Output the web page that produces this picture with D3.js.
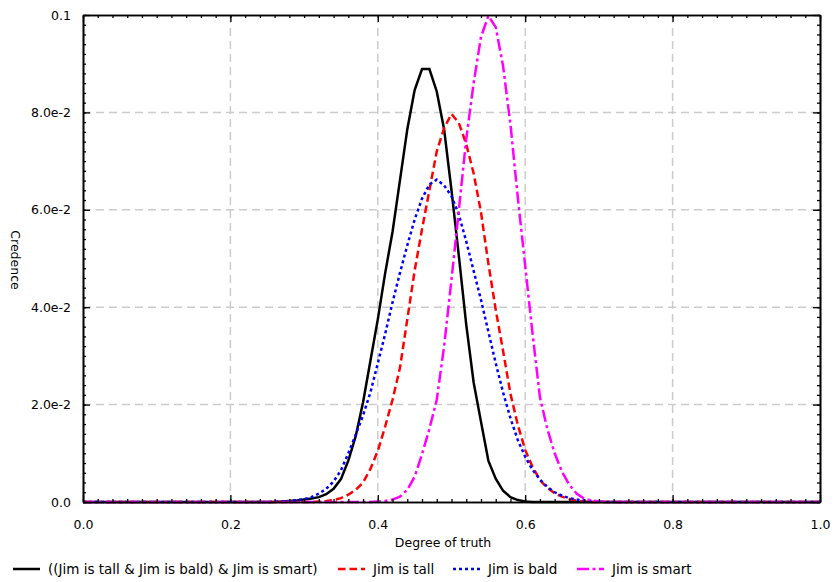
<!DOCTYPE html>
<html>
<head>
<meta charset="utf-8">
<script src="https://cdn.jsdelivr.net/npm/d3@7"></script>
<style>
body { margin: 0; background: #fff; }
text { font-family: "DejaVu Sans", sans-serif; font-size: 12.5px; fill: #000; }
</style>
</head>
<body>
<svg id="chart" width="837" height="582"></svg>
<script>
// Credence over degree of truth, sampled every 0.01
var degrees = [
    0.00, 0.01, 0.02, 0.03, 0.04, 0.05, 0.06, 0.07, 0.08, 0.09,
    0.10, 0.11, 0.12, 0.13, 0.14, 0.15, 0.16, 0.17, 0.18, 0.19,
    0.20, 0.21, 0.22, 0.23, 0.24, 0.25, 0.26, 0.27, 0.28, 0.29,
    0.30, 0.31, 0.32, 0.33, 0.34, 0.35, 0.36, 0.37, 0.38, 0.39,
    0.40, 0.41, 0.42, 0.43, 0.44, 0.45, 0.46, 0.47, 0.48, 0.49,
    0.50, 0.51, 0.52, 0.53, 0.54, 0.55, 0.56, 0.57, 0.58, 0.59,
    0.60, 0.61, 0.62, 0.63, 0.64, 0.65, 0.66, 0.67, 0.68, 0.69,
    0.70, 0.71, 0.72, 0.73, 0.74, 0.75, 0.76, 0.77, 0.78, 0.79,
    0.80, 0.81, 0.82, 0.83, 0.84, 0.85, 0.86, 0.87, 0.88, 0.89,
    0.90, 0.91, 0.92, 0.93, 0.94, 0.95, 0.96, 0.97, 0.98, 0.99,
    1.00
];

var combined = [
    0, 0, 0, 0, 0, 0, 0, 0, 0, 0,
    0, 0, 0, 0, 0, 0, 0, 0, 0, 0,
    0, 0, 0, 0, 0, 0, 0, 0.0001, 0.0002, 0.0003,
    0.0005, 0.0007, 0.0010, 0.0016, 0.0027, 0.0047, 0.0085, 0.0135, 0.0205, 0.0290,
    0.0375, 0.0470, 0.0555, 0.0660, 0.0765, 0.0846, 0.0889, 0.0889, 0.0843, 0.0765,
    0.0640, 0.0505, 0.0364, 0.0246, 0.0165, 0.0085, 0.0048, 0.0023, 0.0010, 0.0004,
    0.0001, 0, 0, 0, 0, 0, 0, 0, 0, 0,
    0, 0, 0, 0, 0, 0, 0, 0, 0, 0,
    0, 0, 0, 0, 0, 0, 0, 0, 0, 0,
    0, 0, 0, 0, 0, 0, 0, 0, 0, 0,
    0
];

var tall = [
    0, 0, 0, 0, 0, 0, 0, 0, 0, 0,
    0, 0, 0, 0, 0, 0, 0, 0, 0, 0,
    0, 0, 0, 0, 0, 0, 0, 0, 0, 0,
    0, 0, 0.0001, 0.0002, 0.0004, 0.0008, 0.0015, 0.0025, 0.0040, 0.0068,
    0.0105, 0.0155, 0.0210, 0.0275, 0.0375, 0.0475, 0.0560, 0.0640, 0.0720, 0.0768,
    0.0797, 0.0778, 0.0735, 0.0675, 0.0595, 0.0490, 0.0395, 0.0310, 0.0222, 0.0158,
    0.0107, 0.0072, 0.0045, 0.0029, 0.0018, 0.0011, 0.0006, 0.0003, 0.0001, 0,
    0, 0, 0, 0, 0, 0, 0, 0, 0, 0,
    0, 0, 0, 0, 0, 0, 0, 0, 0, 0,
    0, 0, 0, 0, 0, 0, 0, 0, 0, 0,
    0
];

var bald = [
    0, 0, 0, 0, 0, 0, 0, 0, 0, 0,
    0, 0, 0, 0, 0, 0, 0, 0, 0, 0,
    0, 0, 0, 0, 0, 0, 0.0001, 0.0001, 0.0002, 0.0004,
    0.0006, 0.0010, 0.0017, 0.0027, 0.0042, 0.0065, 0.0100, 0.0138, 0.0178, 0.0225,
    0.0285, 0.0345, 0.0410, 0.0470, 0.0527, 0.0580, 0.0623, 0.0652, 0.0662, 0.0650,
    0.0628, 0.0590, 0.0535, 0.0475, 0.0415, 0.0350, 0.0285, 0.0225, 0.0172, 0.0127,
    0.0093, 0.0066, 0.0046, 0.0031, 0.0020, 0.0013, 0.0008, 0.0005, 0.0003, 0.0002,
    0.0001, 0, 0, 0, 0, 0, 0, 0, 0, 0,
    0, 0, 0, 0, 0, 0, 0, 0, 0, 0,
    0, 0, 0, 0, 0, 0, 0, 0, 0, 0,
    0
];

var smart = [
    0, 0, 0, 0, 0, 0, 0, 0, 0, 0,
    0, 0, 0, 0, 0, 0, 0, 0, 0, 0,
    0, 0, 0, 0, 0, 0, 0, 0, 0, 0,
    0, 0, 0, 0, 0, 0, 0, 0, 0, 0,
    0.0001, 0.0002, 0.0005, 0.0011, 0.0025, 0.0052, 0.0098, 0.0150, 0.0210, 0.0320,
    0.0457, 0.0600, 0.0745, 0.0860, 0.0955, 0.0998, 0.0975, 0.0895, 0.0775, 0.0625,
    0.0485, 0.0345, 0.0215, 0.0150, 0.0100, 0.0062, 0.0035, 0.0017, 0.0007, 0.0003,
    0.0001, 0, 0, 0, 0, 0, 0, 0, 0, 0,
    0, 0, 0, 0, 0, 0, 0, 0, 0, 0,
    0, 0, 0, 0, 0, 0, 0, 0, 0, 0,
    0
];

var seriesNames = ["((Jim is tall & Jim is bald) & Jim is smart)", "Jim is tall", "Jim is bald", "Jim is smart"];
var seriesValues = [combined, tall, bald, smart];
var seriesColors = ["#000000", "#ff0000", "#0000ff", "#ff00ff"];
var seriesDashes = ["none", "7.5,4", "3,3", "12,3.5,3,3.5"];

var xTicks = [0, 0.2, 0.4, 0.6, 0.8, 1.0];
var xTickLabels = ["0.0", "0.2", "0.4", "0.6", "0.8", "1.0"];
var yTicks = [0, 0.02, 0.04, 0.06, 0.08, 0.1];
var yTickLabels = ["0.0", "2.0e-2", "4.0e-2", "6.0e-2", "8.0e-2", "0.1"];

var svg = d3.select("#chart");

var plotLeft = 83, plotRight = 820, plotTop = 15, plotBottom = 502;

var xScale = d3.scaleLinear()
    .domain([0, 1])
    .range([plotLeft, plotRight]);

var yScale = d3.scaleLinear()
    .domain([0, 0.1])
    .range([plotBottom, plotTop]);

// grid
svg.selectAll("line.gx")
    .data(xTicks.slice(1, -1))
    .enter()
    .append("line")
    .attr("class", "gx")
    .attr("x1", (d) => xScale(d))
    .attr("x2", (d) => xScale(d))
    .attr("y1", plotTop)
    .attr("y2", plotBottom)
    .attr("stroke", "#cccccc")
    .attr("stroke-width", 1.5)
    .attr("stroke-dasharray", "8,5");

svg.selectAll("line.gy")
    .data(yTicks.slice(1, -1))
    .enter()
    .append("line")
    .attr("class", "gy")
    .attr("x1", plotLeft)
    .attr("x2", plotRight)
    .attr("y1", (d) => yScale(d))
    .attr("y2", (d) => yScale(d))
    .attr("stroke", "#cccccc")
    .attr("stroke-width", 1.5)
    .attr("stroke-dasharray", "8,5");

// curves
var line = d3.line()
    .x((d, i) => xScale(degrees[i]))
    .y((d) => yScale(d));

svg.selectAll("path.series")
    .data(seriesValues)
    .enter()
    .append("path")
    .attr("class", "series")
    .attr("d", (d) => line(d))
    .attr("fill", "none")
    .attr("stroke", (d, i) => seriesColors[i])
    .attr("stroke-width", 2.5)
    .attr("stroke-dasharray", (d, i) => seriesDashes[i]);

// axes: major ticks inward, minor ticks inward and shorter
function styleAxis(g) {
    g.select(".domain").attr("stroke", "#000").attr("stroke-width", 1.6);
    g.selectAll(".tick line").attr("stroke", "#000").attr("stroke-width", 1.3);
    g.selectAll("text").style("font-family", "'DejaVu Sans', sans-serif").style("font-size", "12.5px");
}

var xMinor = xScale.ticks(50);
var yMinor = yScale.ticks(50);

svg.append("g")
    .attr("transform", "translate(0," + plotBottom + ")")
    .call(d3.axisBottom(xScale).tickValues(xMinor).tickSizeInner(-3).tickSizeOuter(0).tickFormat(""))
    .call(styleAxis);
svg.append("g")
    .attr("transform", "translate(0," + plotTop + ")")
    .call(d3.axisTop(xScale).tickValues(xMinor).tickSizeInner(-3).tickSizeOuter(0).tickFormat(""))
    .call(styleAxis);
svg.append("g")
    .attr("transform", "translate(" + plotLeft + ",0)")
    .call(d3.axisLeft(yScale).tickValues(yMinor).tickSizeInner(-3).tickSizeOuter(0).tickFormat(""))
    .call(styleAxis);
svg.append("g")
    .attr("transform", "translate(" + plotRight + ",0)")
    .call(d3.axisRight(yScale).tickValues(yMinor).tickSizeInner(-3).tickSizeOuter(0).tickFormat(""))
    .call(styleAxis);

svg.append("g")
    .attr("transform", "translate(0," + plotBottom + ")")
    .call(d3.axisBottom(xScale).tickValues(xTicks).tickSizeInner(-7).tickSizeOuter(0).tickPadding(18)
        .tickFormat((d, i) => xTickLabels[i]))
    .call(styleAxis);
svg.append("g")
    .attr("transform", "translate(0," + plotTop + ")")
    .call(d3.axisTop(xScale).tickValues(xTicks).tickSizeInner(-7).tickSizeOuter(0).tickFormat(""))
    .call(styleAxis);
svg.append("g")
    .attr("transform", "translate(" + plotLeft + ",0)")
    .call(d3.axisLeft(yScale).tickValues(yTicks).tickSizeInner(-7).tickSizeOuter(0).tickPadding(12)
        .tickFormat((d, i) => yTickLabels[i]))
    .call(styleAxis);
svg.append("g")
    .attr("transform", "translate(" + plotRight + ",0)")
    .call(d3.axisRight(yScale).tickValues(yTicks).tickSizeInner(-7).tickSizeOuter(0).tickFormat(""))
    .call(styleAxis);

// axis titles
svg.append("text")
    .attr("x", 443)
    .attr("y", 547)
    .attr("text-anchor", "middle")
    .text("Degree of truth");

svg.append("text")
    .attr("transform", "translate(11,260) rotate(90)")
    .attr("text-anchor", "middle")
    .text("Credence");

// legend
var legendX = [13, 338, 453, 577];
var legend = svg.selectAll("g.legend")
    .data(seriesNames)
    .enter()
    .append("g")
    .attr("class", "legend")
    .attr("transform", (d, i) => "translate(" + legendX[i] + ",569)");

legend.append("line")
    .attr("x1", 0)
    .attr("x2", 27)
    .attr("y1", 0)
    .attr("y2", 0)
    .attr("stroke", (d, i) => seriesColors[i])
    .attr("stroke-width", 2.5)
    .attr("stroke-dasharray", (d, i) => seriesDashes[i]);

legend.append("text")
    .attr("x", 35)
    .attr("y", 4.5)
    .style("font-size", "13.5px")
    .text((d) => d);
</script>
</body>
</html>
